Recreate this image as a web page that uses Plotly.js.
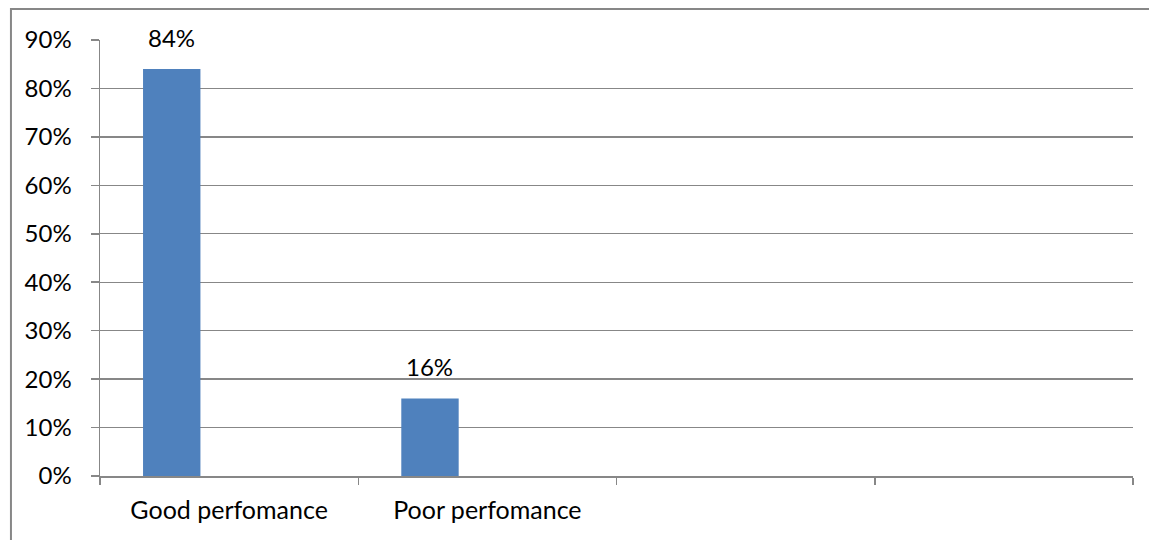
<!DOCTYPE html>
<html>
<head>
<meta charset="utf-8">
<script src="https://cdn.plot.ly/plotly-3.0.1.min.js"></script>
<style>html,body{margin:0;padding:0;background:#fff;}#chart{width:1149px;height:540px;}</style>
</head>
<body>
<div id="chart"></div>
<script>
// Data
const categories = ["Good perfomance", "Poor perfomance", " ", "  "];
const values = [0.84, 0.16, null, null];
const valueLabels = ["84%", "16%", "", ""];
const yTickVals = [0, 0.1, 0.2, 0.3, 0.4, 0.5, 0.6, 0.7, 0.8, 0.9];

const barColor = "#4F81BD";
const gridColor = "#878787";
const fontFamily = "Lato, 'Open Sans', sans-serif";

const barOffset = -1/3;
const barWidth = 2/9;

const trace = {
  type: "bar",
  x: categories,
  y: values,
  offset: barOffset,
  width: barWidth,
  marker: {color: barColor, line: {width: 0}},
  hoverinfo: "none"
};

const annotations = [];
categories.forEach((c, i) => {
  if (values[i] !== null) {
    annotations.push({
      x: c, y: values[i], xref: "x", yref: "y",
      text: valueLabels[i], showarrow: false,
      xanchor: "center", yanchor: "bottom",
      xshift: -57.4, yshift: 15,
      font: {family: fontFamily, size: 24, color: "#000"}
    });
  }
});

const layout = {
  width: 1149, height: 540,
  margin: {l: 100, r: 16, t: 40, b: 64},
  paper_bgcolor: "#fff", plot_bgcolor: "#fff",
  showlegend: false,
  font: {family: fontFamily, size: 24, color: "#000"},
  xaxis: {
    type: "category",
    range: [-0.5, 3.5],
    tickson: "boundaries",
    ticks: "outside", ticklen: 7, tickwidth: 1.5, tickcolor: gridColor,
    showline: true, linecolor: gridColor, linewidth: 1.5,
    showgrid: false, zeroline: false,
    ticklabelstandoff: 11,
    tickfont: {family: fontFamily, size: 25, color: "#000"}
  },
  yaxis: {
    range: [0, 0.9],
    tickvals: yTickVals,
    tickformat: ".0%",
    ticks: "outside", ticklen: 8, tickwidth: 1.5, tickcolor: gridColor,
    showline: true, linecolor: gridColor, linewidth: 1.5,
    showgrid: true, gridcolor: gridColor, gridwidth: 1.3,
    zeroline: false,
    ticklabelstandoff: 14,
    tickfont: {family: fontFamily, size: 24, color: "#000"}
  },
  annotations: annotations,
  shapes: [{
    type: "rect", xref: "paper", yref: "paper",
    x0: -0.0862, x1: 1.2, y0: -0.3, y1: 1.0711,
    line: {color: gridColor, width: 2}, layer: "below"
  }]
};

Plotly.newPlot("chart", [trace], layout, {displayModeBar: false, staticPlot: true});
</script>
</body>
</html>
